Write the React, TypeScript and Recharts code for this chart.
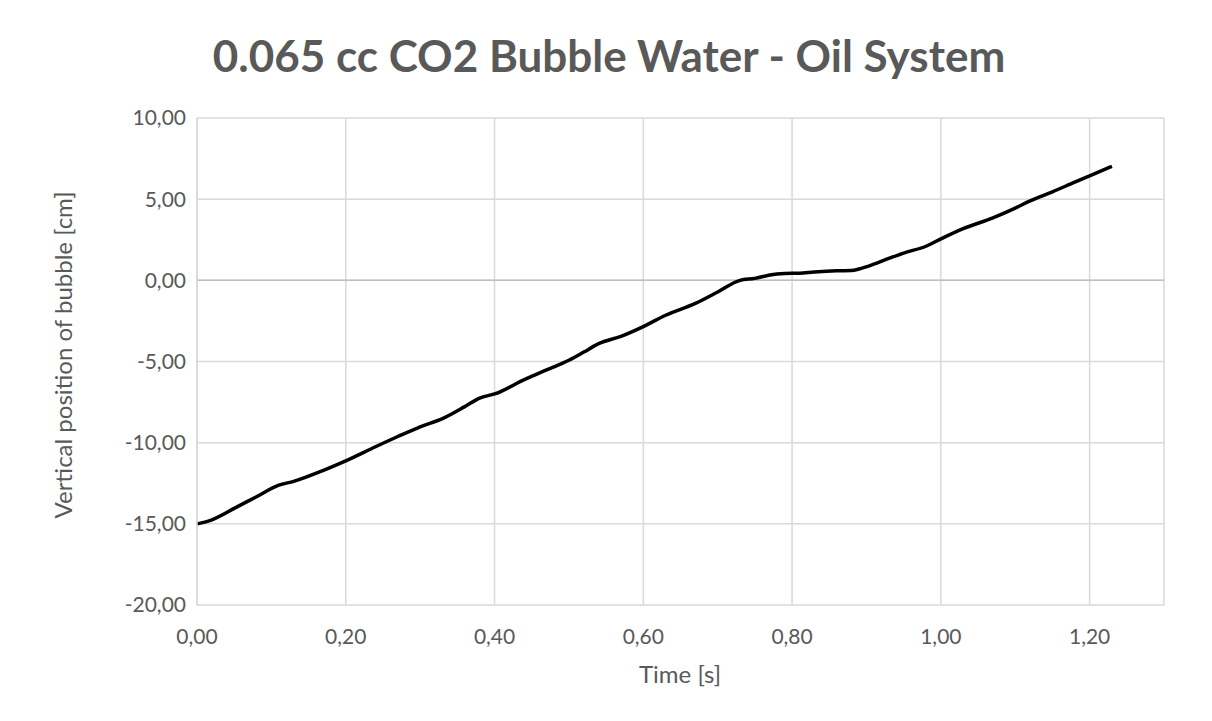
import React from "react"
import {
  LineChart,
  Line,
  XAxis,
  YAxis,
  CartesianGrid,
  ReferenceLine,
} from "recharts"

// time [s] and vertical position [cm]
const time = [
  0.0, 0.02, 0.05, 0.08, 0.11, 0.13, 0.17, 0.2, 0.24, 0.27, 0.3, 0.33, 0.36, 0.38,
  0.4, 0.44, 0.47, 0.5, 0.52, 0.54, 0.57, 0.6, 0.63, 0.67, 0.7, 0.73, 0.75, 0.77,
  0.79, 0.81, 0.83, 0.86, 0.88, 0.89, 0.91, 0.93, 0.95, 0.98, 1.0, 1.03, 1.07, 1.1,
  1.12, 1.15, 1.18, 1.2, 1.23,
]
const position = [
  -15.0, -14.75, -14.05, -13.33, -12.62, -12.38, -11.7, -11.12, -10.25, -9.62, -9.02,
  -8.52, -7.78, -7.25, -7.0, -6.12, -5.52, -4.92, -4.42, -3.9, -3.45, -2.85, -2.15,
  -1.42, -0.72, 0.0, 0.12, 0.33, 0.42, 0.44, 0.52, 0.59, 0.6, 0.7, 1.0, 1.35, 1.68,
  2.1, 2.55, 3.18, 3.85, 4.45, 4.9, 5.45, 6.05, 6.44, 7.02,
]
const xTicks = [0, 0.2, 0.4, 0.6, 0.8, 1.0, 1.2]
const yTicks = [-20, -15, -10, -5, 0, 5, 10]

const title = "0.065 cc CO2 Bubble Water - Oil System"
const xTitle = "Time [s]"
const yTitle = "Vertical position of bubble [cm]"

const data = time.map((t, i) => ({ t, y: position[i] }))

const fmt = (v: number) => v.toFixed(2).replace(".", ",")
const font = "Lato, 'Open Sans', sans-serif"
const grey = "#595959"

export default function App() {
  return (
    <div style={{ position: "relative", width: 1204, height: 713, fontFamily: font }}>
      <div
        style={{
          position: "absolute",
          left: -2,
          top: -1,
          width: 1210,
          height: 718,
          borderLeft: "1px solid #d9d9d9",
          borderTop: "1px solid #d9d9d9",
        }}
      />
      <svg
        width={1204}
        height={80}
        style={{ position: "absolute", left: 0, top: 0, pointerEvents: "none" }}
      >
        <text
          x={601}
          y={64}
          textAnchor="middle"
          fill={grey}
          fontFamily={font}
          fontWeight="bold"
          fontSize={44}
        >
          {title}
        </text>
      </svg>
      <LineChart
        width={1204}
        height={713}
        data={data}
        margin={{ top: 110, right: 48, bottom: 26, left: 39 }}
      >
        <CartesianGrid stroke="#d9d9d9" strokeWidth={1.5} />
        <XAxis
          type="number"
          dataKey="t"
          domain={[0, 1.3]}
          ticks={xTicks}
          tickFormatter={fmt}
          axisLine={false}
          tickLine={false}
          tickSize={0}
          tickMargin={24}
          height={90}
          tick={{ fill: grey, fontSize: 21, fontFamily: font }}
          label={{
            content: () => (
              <text
                x={672}
                y={675}
                textAnchor="middle"
                fill={grey}
                fontSize={24}
                fontFamily={font}
              >
                {xTitle}
              </text>
            ),
          }}
        />
        <YAxis
          type="number"
          domain={[-20, 10]}
          ticks={yTicks}
          tickFormatter={fmt}
          axisLine={{ stroke: "#d9d9d9", strokeWidth: 1.5 }}
          tickLine={false}
          tickSize={0}
          tickMargin={11}
          width={150}
          tick={{ fill: grey, fontSize: 21, fontFamily: font }}
          label={{
            content: () => (
              <text
                x={54}
                y={347}
                transform="rotate(-90 54 347)"
                textAnchor="middle"
                dominantBaseline="central"
                fill={grey}
                fontSize={24}
                fontFamily={font}
              >
                {yTitle}
              </text>
            ),
          }}
        />
        <ReferenceLine y={0} stroke="#bfbfbf" strokeWidth={1.5} />
        <Line
          type="monotone"
          dataKey="y"
          stroke="#000"
          strokeWidth={3.5}
          dot={false}
          isAnimationActive={false}
        />
      </LineChart>
    </div>
  )
}
